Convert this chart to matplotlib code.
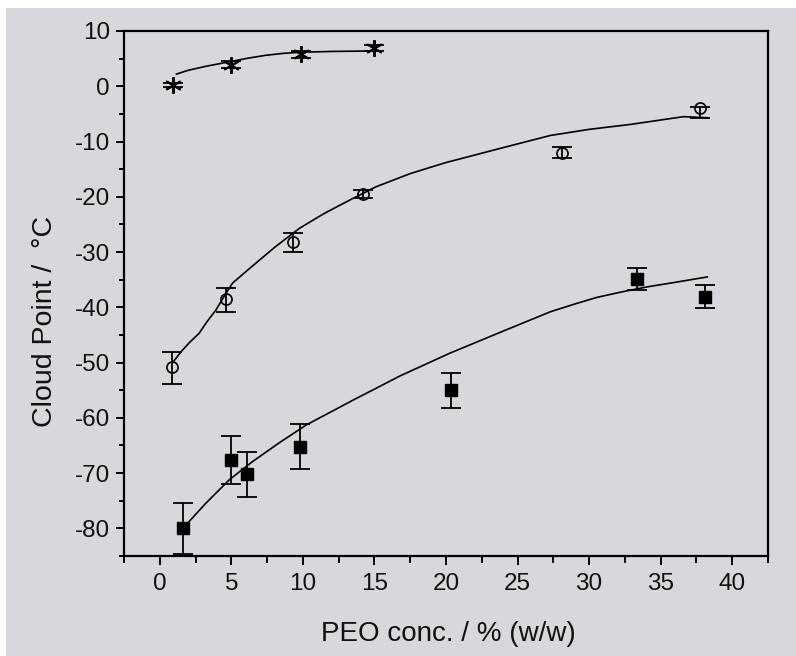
import matplotlib
matplotlib.use("Agg")
import matplotlib.pyplot as plt
from matplotlib.patches import Rectangle
from matplotlib.ticker import MultipleLocator

plt.rcParams['font.family'] = ['Liberation Sans', 'DejaVu Sans']
plt.rcParams['axes.unicode_minus'] = False

# Series 1 (asterisks)
s1_x = [0.9, 5.0, 9.9, 14.95]
s1_y = [0.2, 3.9, 5.8, 6.9]
s1_err = [0.4, 0.6, 0.6, 0.5]
fit1_x = [1.16, 2.0, 3.2, 5.0, 6.2, 7.4, 8.6, 9.8, 12.0, 15.4]
fit1_y = [2.2, 2.9, 3.6, 4.5, 5.1, 5.6, 5.95, 6.15, 6.3, 6.4]

# Series 2 (open circles)
s2_x = [0.88, 4.62, 9.3, 14.2, 28.1, 37.74]
s2_y = [-50.8, -38.5, -28.2, -19.5, -12.0, -4.0]
s2_err_lo = [3.0, 2.4, 1.8, 0.8, 1.0, 1.7]
s2_err_hi = [2.7, 2.0, 1.6, 0.8, 1.0, 0.3]
fit2_x = [0.9, 1.5, 2.1, 2.75, 3.3, 3.92, 4.5, 5.09, 6.26, 8.0, 9.76, 11.5, 13.27, 15.1, 17.5, 20.0, 24.0, 27.3, 30.0, 32.9, 36.6, 38.3]
fit2_y = [-50.0, -48.0, -46.3, -44.7, -42.6, -40.5, -38.0, -35.6, -33.0, -29.2, -25.7, -23.0, -20.6, -18.2, -15.8, -13.8, -11.1, -8.9, -7.8, -6.9, -5.5, -5.7]

# Series 3 (filled squares)
s3_x = [1.65, 4.97, 6.1, 9.8, 20.34, 33.36, 38.07]
s3_y = [-80.0, -67.6, -70.2, -65.2, -55.0, -34.9, -38.1]
s3_err = [4.6, 4.3, 4.1, 4.0, 3.2, 2.0, 2.1]
fit3_x = [1.93, 3.2, 4.86, 6.49, 8.3, 10.23, 13.5, 16.8, 20.27, 24.0, 27.3, 29.0, 30.55, 32.3, 34.06, 36.2, 38.26]
fit3_y = [-79.1, -75.5, -71.2, -67.9, -64.6, -61.3, -56.8, -52.4, -48.3, -44.3, -40.8, -39.4, -38.2, -37.2, -36.3, -35.4, -34.5]

xticks = [0, 5, 10, 15, 20, 25, 30, 35, 40]
yticks = [-80, -70, -60, -50, -40, -30, -20, -10, 0, 10]

W, H = 796, 656
fig = plt.figure(figsize=(W / 100, H / 100), dpi=100, facecolor='white')
bg = '#d7d8db'
fig.patches.append(Rectangle((6 / W, 0), 1 - 6 / W, (H - 8) / H,
                             transform=fig.transFigure, facecolor=bg,
                             edgecolor='none', zorder=-10))

ax = fig.add_axes([124 / W, 1 - 556 / H, (768 - 124) / W, (556 - 31) / H])
ax.set_facecolor('none')

ax.set_xlim(-2.5, 42.5)
ax.set_ylim(-85, 10)

ax.plot(fit1_x, fit1_y, color='black', lw=1.2, zorder=2)
ax.plot(fit2_x, fit2_y, color='black', lw=1.2, zorder=2)
ax.plot(fit3_x, fit3_y, color='black', lw=1.2, zorder=2)

ax.errorbar(s1_x, s1_y, yerr=s1_err, fmt='none', ecolor='black',
            elinewidth=1.3, capsize=7, capthick=1.3, zorder=3)
ax.plot(s1_x, s1_y, linestyle='none', marker=(6, 2, 0), markersize=12,
        markeredgecolor='black', markeredgewidth=1.4, zorder=4)

ax.errorbar(s2_x, s2_y, yerr=[s2_err_lo, s2_err_hi], fmt='none', ecolor='black',
            elinewidth=1.3, capsize=7, capthick=1.3, zorder=3)
ax.plot(s2_x, s2_y, linestyle='none', marker='o', markersize=8,
        markerfacecolor='none', markeredgecolor='black', markeredgewidth=1.2, zorder=4)

ax.errorbar(s3_x, s3_y, yerr=s3_err, fmt='none', ecolor='black',
            elinewidth=1.3, capsize=7, capthick=1.3, zorder=3, clip_on=True)
ax.plot(s3_x, s3_y, linestyle='none', marker='s', markersize=9,
        markerfacecolor='black', markeredgecolor='black', zorder=4)

for sp in ax.spines.values():
    sp.set_linewidth(1.6)
    sp.set_color('black')

ax.set_xticks(xticks)
ax.set_yticks(yticks)
ax.xaxis.set_minor_locator(MultipleLocator(2.5))
ax.yaxis.set_minor_locator(MultipleLocator(5))
ax.tick_params(which='both', direction='out', top=False, right=False,
               width=1.4, color='black', labelsize=17.5, labelcolor='#111111')
ax.tick_params(axis='x', which='major', length=6.5, pad=6)
ax.tick_params(axis='x', which='minor', length=5)
ax.tick_params(axis='y', which='major', length=5.5, pad=4.5)
ax.tick_params(axis='y', which='minor', length=3.5)

fig.text(448 / W, 1 - 634 / H, 'PEO conc. / % (w/w)', ha='center', va='center',
         fontsize=20, color='#111111')
fig.text(45 / W, 1 - 321 / H, 'Cloud Point /  \u00b0C', ha='center', va='center',
         rotation=90, fontsize=20.5, color='#111111')

fig.savefig('out.png', dpi=100, facecolor=fig.get_facecolor())
